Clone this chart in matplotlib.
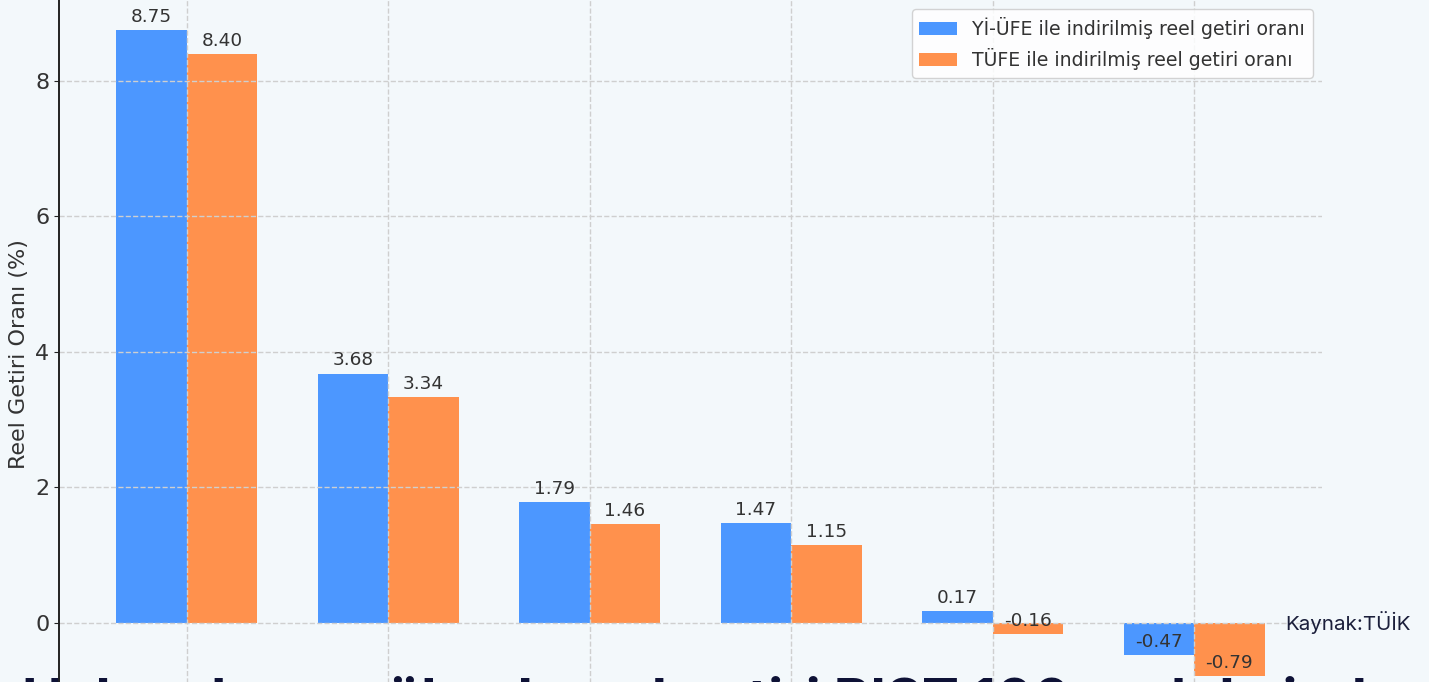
import matplotlib.pyplot as plt
import numpy as np

# data (x labels are cut off in the screenshot)
categories = ['BIST 100', 'Altın', 'Dolar', 'Euro', 'Mevduat', 'DİBS']
yi_ufe = [8.75, 3.68, 1.79, 1.47, 0.17, -0.47]
tufe = [8.40, 3.34, 1.46, 1.15, -0.16, -0.79]
series_names = ['Yİ-ÜFE ile indirilmiş reel getiri oranı', 'TÜFE ile indirilmiş reel getiri oranı']
yticks = [0, 2, 4, 6, 8]

bg = '#f3f8fb'
blue = '#4c97ff'
orange = '#ff914d'

W, H = 1429, 682
fig = plt.figure(figsize=(W/100, H/100), dpi=100, facecolor=bg)

# axes runs past the bottom edge, the screenshot crops the chart
ax = fig.add_axes([59/W, -26/H, (1322-59)/W, 708/H])
ax.set_facecolor('none')

x = np.arange(len(categories))
width = 0.35
b1 = ax.bar(x - width/2, yi_ufe, width, color=blue, label=series_names[0])
b2 = ax.bar(x + width/2, tufe, width, color=orange, label=series_names[1])

for bars in (b1, b2):
	for bar in bars:
		v = bar.get_height()
		ax.annotate('%.2f' % v, xy=(bar.get_x() + bar.get_width()/2, v),
					xytext=(0, 3), textcoords='offset points',
					ha='center', va='bottom', fontsize=13.3, color='#333333')

ax.set_ylim(-1.255, 9.195)
ax.set_yticks(yticks)
ax.set_xticks(x)
ax.set_xticklabels(categories)
ax.tick_params(axis='x', labelbottom=False, length=0)
ax.tick_params(axis='y', labelsize=16, colors='#222222', labelcolor='#333333')
ax.set_ylabel('Reel Getiri Oranı (%)', fontsize=16, color='#333333')
ax.grid(True, linestyle='--', color='#cfcfcf', linewidth=1)
for s in ['top', 'right', 'bottom']:
	ax.spines[s].set_visible(False)
ax.spines['left'].set_linewidth(1.4)
ax.spines['left'].set_color('#222222')

leg = ax.legend(loc='upper right', fontsize=13.6, framealpha=0.85, edgecolor='#cccccc', facecolor='white')
for t in leg.get_texts():
	t.set_color('#333333')

fig.text(1285/W, 1 - 630/H, 'Kaynak:TÜİK', fontsize=14.8, family='Inter',
		 color='#1b1f3b', va='baseline', ha='left')

# page heading below the chart, only the top of the letters shows
heading = 'Halen de en yüksek reel getiri BIST 100 endeksinde'
ht = fig.text(22/W, 0, heading, fontsize=36, family='Inter', fontweight='bold',
			  color='#0e1236', va='baseline', ha='left', zorder=-1)
fig.canvas.draw()
w = ht.get_window_extent().width
fs = 36 * (1400 - 22) / w
ht.set_fontsize(fs)
base = 679 + 0.727 * fs * 100 / 72
ht.set_y((H - base) / H)

fig.savefig('out.png', dpi=100, facecolor=bg)
